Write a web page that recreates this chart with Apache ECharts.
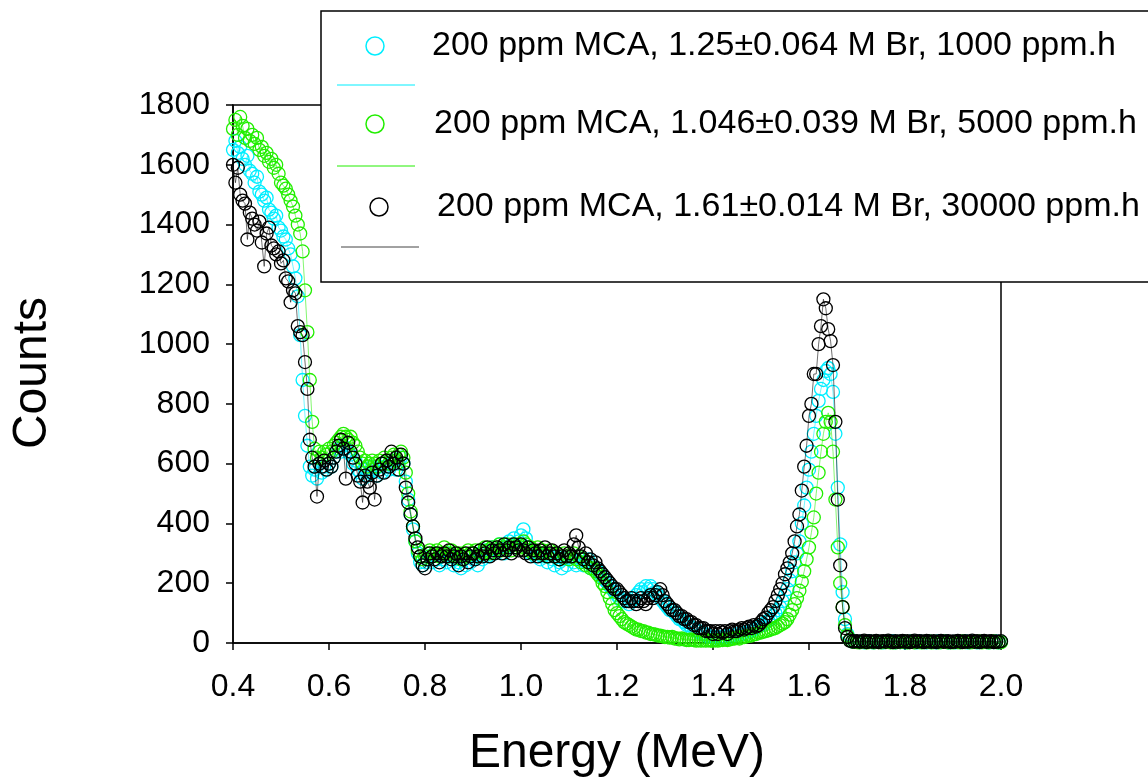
<!DOCTYPE html>
<html><head><meta charset="utf-8">
<script src="https://cdn.jsdelivr.net/npm/echarts@6/dist/echarts.min.js"></script>
<style>html,body{margin:0;padding:0;background:#fff}#c{width:1148px;height:780px}</style>
</head><body><div id="c"></div>
<script>
// Energy grid (MeV): channels from 0.400 to 2.000 every 0.005
const energyStart = 0.4, energyStep = 0.005, energyCount = 321;
const xTickLabels = ['0.4','0.6','0.8','1.0','1.2','1.4','1.6','1.8','2.0'];
const yTickLabels = ['0','200','400','600','800','1000','1200','1400','1600','1800'];

const seriesNames = [
  '200 ppm MCA, 1.25\u00b10.064 M Br, 1000 ppm.h',
  '200 ppm MCA, 1.046\u00b10.039 M Br, 5000 ppm.h',
  '200 ppm MCA, 1.61\u00b10.014 M Br, 30000 ppm.h'
];

const cyanCounts = [
  1650,1680,1640,1660,1620,1600,1630,1580,1570,1540,1560,1510,1500,1480,1490,1450,1440,1420,1430,1390,
  1380,1360,1350,1320,1300,1260,1220,1160,1030,880,760,660,590,560,580,550,600,570,590,580,
  600,590,620,640,650,640,660,650,640,630,600,610,580,570,550,580,560,570,590,580,
  560,590,570,600,590,580,600,610,580,600,620,600,540,480,430,380,340,300,270,260,
  270,280,290,270,300,280,260,290,280,270,300,290,260,280,270,250,280,260,290,270,
  280,290,260,300,280,310,290,300,320,300,310,330,320,300,320,340,330,350,320,340,
  360,380,350,320,300,310,290,300,280,290,300,270,290,280,260,290,270,250,280,260,
  280,290,270,260,290,280,260,270,280,250,260,250,240,230,220,210,200,190,180,170,
  160,150,140,150,140,130,140,150,160,170,180,170,190,180,190,180,170,160,150,140,
  130,120,110,110,100,90,80,80,70,60,60,50,50,40,40,30,30,30,20,20,
  20,20,15,20,15,20,25,20,20,25,30,25,30,35,30,40,40,45,50,55,
  60,60,70,75,80,90,100,110,120,140,160,180,210,240,270,300,340,400,460,520,
  580,640,700,760,810,850,880,910,920,900,840,700,520,330,170,80,30,10,5,5,
  4,3,5,2,4,6,3,2,5,4,3,2,4,5,3,6,2,4,3,5,2,3,4,6,3,2,5,3,4,2,
  5,3,4,2,6,3,4,5,2,3,4,2,5,3,4,6,2,3,5,4,2,3,4,5,3,2,4,3,5,2,4
];

const greenCounts = [
  1720,1750,1700,1760,1730,1690,1720,1680,1700,1670,1690,1650,1660,1630,1640,1610,1620,1590,1600,1570,
  1540,1530,1520,1500,1480,1460,1430,1400,1370,1310,1180,1040,880,740,650,620,640,620,640,630,
  650,640,660,670,680,690,700,690,680,690,670,660,640,620,600,610,590,600,610,600,
  590,610,600,620,610,600,620,630,610,630,640,620,570,500,440,390,340,310,290,280,
  290,300,310,290,300,310,290,300,320,300,290,310,300,290,300,280,300,290,310,300,
  300,310,290,310,300,320,310,300,320,310,320,330,310,320,330,320,310,330,320,330,
  320,340,330,310,320,300,310,320,300,310,300,290,310,300,290,300,280,290,300,290,
  280,290,300,280,290,270,280,260,270,250,250,240,230,220,200,190,170,150,130,110,
  100,90,80,70,65,60,55,50,45,45,40,40,35,35,30,30,28,25,25,22,
  20,20,18,20,15,15,12,15,12,10,10,12,10,8,10,8,10,8,10,8,
  8,10,8,10,10,12,10,12,15,15,18,15,20,20,22,25,25,30,30,35,
  35,38,40,42,45,48,50,55,60,65,70,80,95,110,130,150,175,205,240,280,
  320,370,420,500,570,640,700,740,770,740,640,480,320,200,120,60,25,10,5,4,
  3,2,4,5,2,3,4,2,5,3,2,4,3,5,2,3,2,4,3,5,4,2,3,5,2,4,3,2,4,3,
  5,2,3,4,2,3,5,4,2,3,2,4,3,2,5,3,4,2,3,4,3,5,2,4,3,2,4,5,3,2,3
];

const blackCounts = [
  1600,1540,1590,1500,1480,1470,1350,1440,1420,1400,1380,1410,1340,1260,1370,1390,1330,1320,1300,1310,
  1270,1280,1220,1210,1140,1180,1170,1060,1040,1030,940,850,680,620,590,490,600,590,610,580,
  600,590,620,640,660,680,650,550,670,640,620,600,560,540,470,560,540,520,570,480,
  560,580,600,570,610,590,640,600,620,580,630,600,520,470,430,390,350,320,290,260,
  250,280,300,290,280,300,270,290,300,290,310,280,290,300,260,290,280,300,270,290,
  300,280,290,310,290,300,320,290,310,300,320,310,300,330,310,320,300,330,320,310,
  330,310,300,320,290,310,300,290,310,300,320,290,300,310,290,300,280,290,310,290,
  300,290,330,360,320,290,280,300,270,280,260,270,250,240,230,220,210,200,190,180,
  180,170,160,150,140,140,150,140,130,140,150,140,130,150,160,150,160,170,180,160,
  140,130,120,110,110,100,90,90,80,80,70,70,60,60,50,50,50,40,40,40,
  30,40,30,40,35,40,30,40,45,40,40,45,50,45,50,55,50,60,55,60,
  70,80,85,100,110,120,140,160,180,200,230,250,270,300,340,390,430,510,590,660,
  760,800,900,900,1000,1060,1150,1120,1050,1010,930,740,480,260,120,50,20,8,5,5,
  6,4,5,8,3,6,5,4,7,3,5,6,4,8,5,3,6,4,5,7,4,6,3,5,8,4,6,5,3,7,
  5,4,6,3,5,7,4,5,6,3,5,4,7,5,3,6,4,5,8,4,6,3,5,7,4,5,6,3,5,4,6
];

const colors = ['#00eeff', '#22ee00', '#000000'];
const legendLineColors = ['#00eeff', '#22ee00', '#444444'];

const energies = [];
for (let i = 0; i < energyCount; i++) energies.push(+(energyStart + energyStep * i).toFixed(3));

const FONT = '"Liberation Sans", Arial, sans-serif';
const chart = echarts.init(document.getElementById('c'), null, {renderer: 'canvas'});

function mkSeries(idx, vals) {
  return {
    type: 'line', name: seriesNames[idx],
    data: energies.map((e, i) => [e, vals[i]]),
    symbol: 'circle', symbolSize: 13, showSymbol: true,
    itemStyle: {color: 'rgba(0,0,0,0)', borderColor: colors[idx], borderWidth: 1.3},
    lineStyle: {color: colors[idx], width: 0.8, opacity: 0.7},
    emphasis: {disabled: true},
    clip: false, animation: false, z: 2 + idx
  };
}

const legendY = [46, 124, 207];
const legendLineY = [85, 166, 247];
const legendTextX = [432, 434, 437];
const legendGraphic = [
  {type: 'rect', shape: {x: 321, y: 11, width: 900, height: 271},
   style: {fill: '#fff', stroke: '#000', lineWidth: 1.5}, z: 100}
];
[0, 1, 2].forEach(i => {
  legendGraphic.push({type: 'circle', shape: {cx: 375 + (i === 2 ? 4 : 0), cy: legendY[i], r: 9},
    style: {fill: 'none', stroke: colors[i], lineWidth: 1.5}, z: 101});
  legendGraphic.push({type: 'line', shape: {x1: 337 + (i === 2 ? 4 : 0), y1: legendLineY[i], x2: 415 + (i === 2 ? 4 : 0), y2: legendLineY[i]},
    style: {stroke: legendLineColors[i], lineWidth: 1}, z: 101});
  legendGraphic.push({type: 'text', x: legendTextX[i], y: legendY[i],
    style: {text: seriesNames[i], font: '34px ' + FONT, fill: '#000',
      textAlign: 'left', align: 'left', textVerticalAlign: 'middle', verticalAlign: 'middle'}, z: 101});
});
legendGraphic.push({type: 'text', x: 617, y: 754,
  style: {text: 'Energy (MeV)', font: '48px ' + FONT, fill: '#000',
    textAlign: 'center', align: 'center', textVerticalAlign: 'middle', verticalAlign: 'middle'}, z: 101});
legendGraphic.push({type: 'text', x: 33, y: 373, rotation: Math.PI / 2,
  style: {text: 'Counts', font: '48px ' + FONT, fill: '#000',
    textAlign: 'center', align: 'center', textVerticalAlign: 'middle', verticalAlign: 'middle'}, z: 101});

chart.setOption({
  animation: false,
  backgroundColor: '#fff',
  grid: {left: 233, right: 147, top: 105, bottom: 137, show: true, borderColor: '#000', borderWidth: 1.5, backgroundColor: 'transparent'},
  xAxis: {
    type: 'value', min: 0.4, max: 2.0, interval: 0.2,
    axisLine: {onZero: false, lineStyle: {color: '#000', width: 1.5}},
    axisTick: {length: 7, lineStyle: {color: '#000', width: 1.5}},
    splitLine: {show: false},
    axisLabel: {fontSize: 32, fontFamily: FONT, color: '#000', margin: 28,
      formatter: v => xTickLabels[Math.round((v - 0.4) / 0.2)]}
  },
  yAxis: {
    type: 'value', min: 0, max: 1800, interval: 200,
    axisLine: {show: true, lineStyle: {color: '#000', width: 1.5}},
    axisTick: {show: true, length: 7, lineStyle: {color: '#000', width: 1.5}},
    splitLine: {show: false},
    axisLabel: {fontSize: 32, fontFamily: FONT, color: '#000', margin: 23,
      formatter: v => yTickLabels[Math.round(v / 200)]}
  },
  series: [mkSeries(1, greenCounts), mkSeries(0, cyanCounts), mkSeries(2, blackCounts)],
  graphic: legendGraphic
});
</script></body></html>
